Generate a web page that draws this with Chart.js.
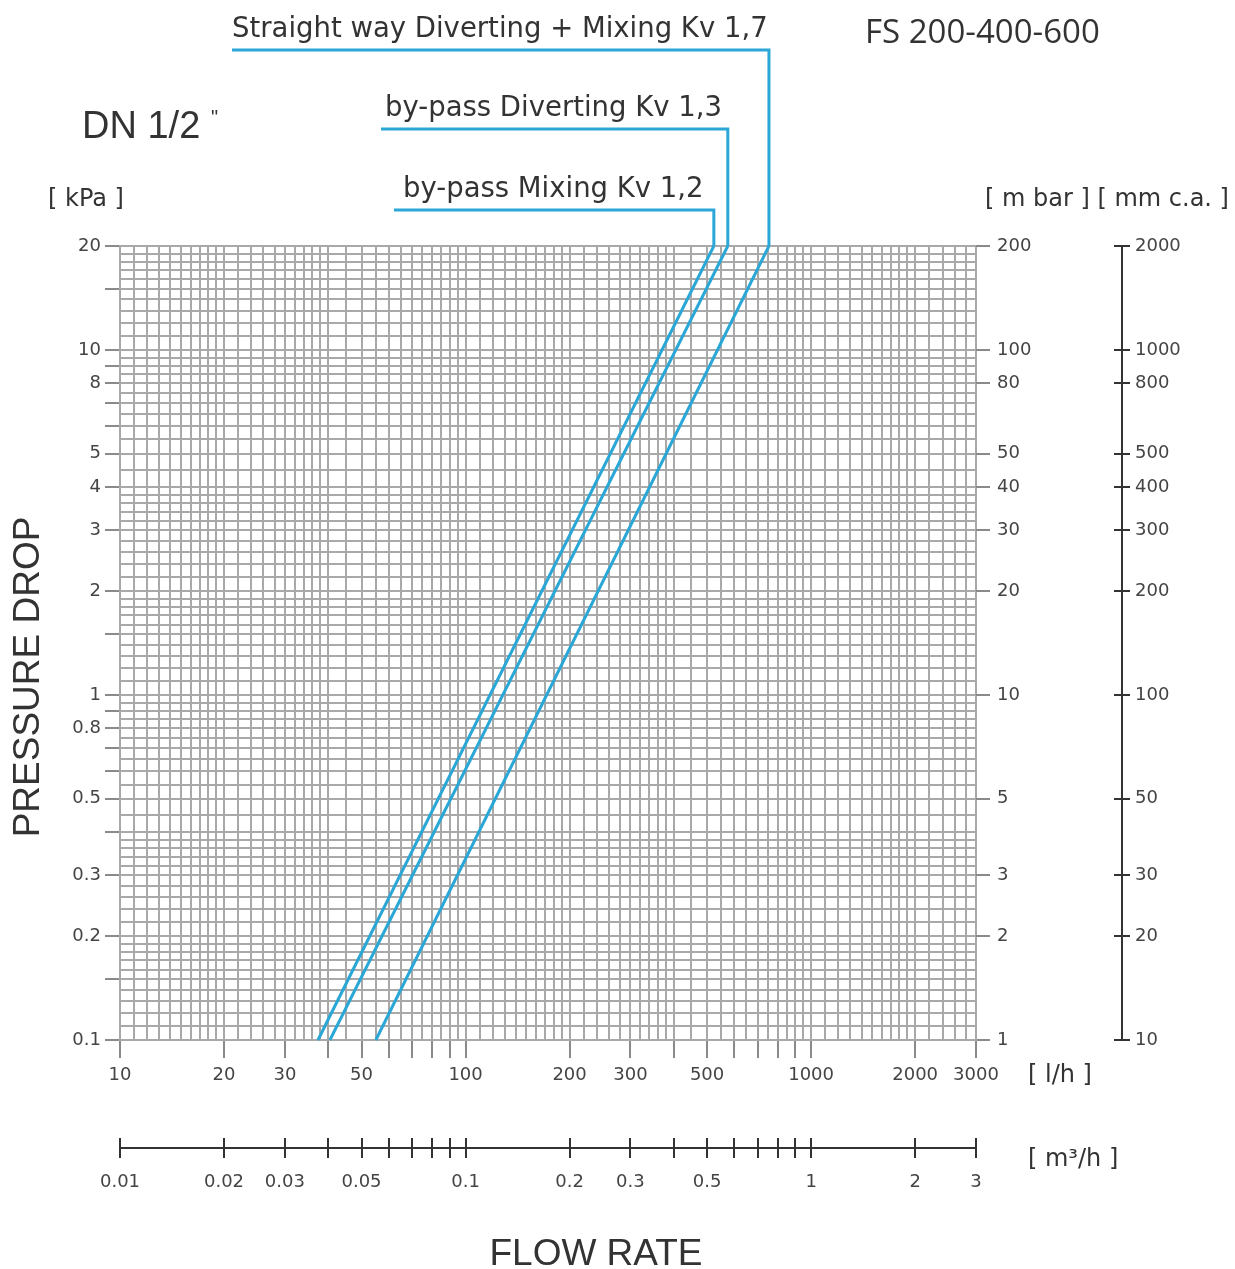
<!DOCTYPE html>
<html>
<head>
<meta charset="utf-8">
<script src="https://cdn.jsdelivr.net/npm/chart.js@4.4.1/dist/chart.umd.min.js"></script>
<style>
  html, body { margin: 0; padding: 0; background: #fff; }
  canvas { display: block; }
</style>
</head>
<body>
<canvas id="chart" width="1235" height="1269"></canvas>
<script>
// 曲線データ（図から読み取り、流量 l/h と圧力損失 kPa）
const seriesNames = ['by-pass Mixing Kv 1,2', 'by-pass Diverting Kv 1,3', 'Straight way Diverting + Mixing Kv 1,7'];
const mixingFlow = [37.4, 523];
const mixingDrop = [0.1, 20];
const divertingFlow = [40.5, 574];
const divertingDrop = [0.1, 20];
const straightFlow = [55, 755];
const straightDrop = [0.1, 20];

// 目盛ラベル
const flowLabels = [10, 20, 30, 50, 100, 200, 300, 500, 1000, 2000, 3000];
const m3Labels = [0.01, 0.02, 0.03, 0.05, 0.1, 0.2, 0.3, 0.5, 1, 2, 3];
const m3Ticks = [0.01, 0.02, 0.03, 0.04, 0.05, 0.06, 0.07, 0.08, 0.09, 0.1, 0.2, 0.3, 0.4, 0.5, 0.6, 0.7, 0.8, 0.9, 1, 2, 3];
const kpaLabels = [0.1, 0.2, 0.3, 0.5, 0.8, 1, 2, 3, 4, 5, 8, 10, 20];
const mbarLabels = [1, 2, 3, 5, 10, 20, 30, 40, 50, 80, 100, 200];
const mmLabels = [10, 20, 30, 50, 100, 200, 300, 400, 500, 800, 1000, 2000];

const LINE_COLOR = '#2aa7d6';
const GRID_COLOR = '#a9a9a9';
const TEXT_COLOR = '#333';
const TICK_FONT = { family: 'DejaVu Sans', size: 18 };

const near = (a, b) => Math.abs(a - b) <= Math.abs(b) * 1e-6;
const labelFor = (list) => (v) => {
    const hit = list.find(l => near(v, l));
    return hit === undefined ? '' : String(hit);
};

// 対数方眼紙の罫線（1-2: 0.1刻み, 2-4: 0.2刻み, 4-10: 0.5刻み）
function logPaper(min, max) {
    const out = [];
    const e0 = Math.floor(Math.log10(min));
    const e1 = Math.ceil(Math.log10(max));
    for (let e = e0; e <= e1; e++) {
        const d = Math.pow(10, e);
        for (let k = 10; k < 100; k += (k < 20 ? 1 : k < 40 ? 2 : 5)) {
            const v = Number((k / 10 * d).toPrecision(6));
            if (v >= min * 0.999999 && v <= max * 1.000001) out.push(v);
        }
    }
    if (!out.some(v => near(v, max))) out.push(max);
    return out;
}

// 仮数が整数の位置に目盛線
const isIntMantissa = (v) => {
    const m = v / Math.pow(10, Math.floor(Math.log10(v) + 1e-9));
    return Math.abs(m - Math.round(m)) < 1e-6;
};

const xGrid = logPaper(10, 3000);
const yGrid = logPaper(0.1, 20);

const makeSeries = (flow, drop) => flow.map((f, i) => ({ x: f, y: drop[i] }));

// 引出線とラベルの配置
const leaderLayout = [
    { lineY: 210, lineX: 394, textX: 403 },
    { lineY: 129, lineX: 381, textX: 385 },
    { lineY: 50, lineX: 232, textX: 232 }
];

const annotationPlugin = {
    id: 'annotations',
    afterDatasetsDraw(chart) {
        const ctx = chart.ctx;
        ctx.save();
        leaderLayout.forEach((lay, i) => {
            const meta = chart.getDatasetMeta(i);
            const top = meta.data[meta.data.length - 1];
            ctx.strokeStyle = LINE_COLOR;
            ctx.lineWidth = 3;
            ctx.lineJoin = 'miter';
            ctx.beginPath();
            ctx.moveTo(top.x, top.y);
            ctx.lineTo(top.x, lay.lineY);
            ctx.lineTo(lay.lineX, lay.lineY);
            ctx.stroke();
            ctx.fillStyle = TEXT_COLOR;
            ctx.font = '27.5px "DejaVu Sans"';
            ctx.textBaseline = 'alphabetic';
            ctx.textAlign = 'left';
            ctx.fillText(seriesNames[i], lay.textX, lay.lineY - 13);
        });
        ctx.restore();
    },
    afterDraw(chart) {
        const ctx = chart.ctx;
        ctx.save();
        // 十字目盛（副軸）
        ctx.strokeStyle = '#333';
        ctx.lineWidth = 2;
        const mm = chart.scales.mm;
        mm.ticks.forEach(t => {
            const py = Math.round(mm.getPixelForValue(t.value));
            ctx.beginPath();
            ctx.moveTo(mm.left - 8, py);
            ctx.lineTo(mm.left, py);
            ctx.stroke();
        });
        const m3 = chart.scales.m3;
        m3.ticks.forEach(t => {
            const px = Math.round(m3.getPixelForValue(t.value));
            ctx.beginPath();
            ctx.moveTo(px, m3.top - 10);
            ctx.lineTo(px, m3.top);
            ctx.stroke();
        });

        ctx.fillStyle = TEXT_COLOR;
        ctx.textBaseline = 'alphabetic';
        ctx.textAlign = 'left';
        ctx.font = '33px "Open Sans"';
        ctx.fillText('FS 200-400-600', 865, 43);
        ctx.font = '38px "Liberation Sans"';
        ctx.fillText('DN 1/2', 82, 138);
        ctx.font = '20px "Liberation Sans"';
        ctx.fillText('"', 211, 124);
        ctx.font = '24px "DejaVu Sans"';
        ctx.fillText('[ kPa ]', 48, 206);
        ctx.fillText('[ m bar ] [ mm c.a. ]', 985, 206);
        ctx.fillText('[ l/h ]', 1028, 1082);
        ctx.fillText('[ m\u00b3/h ]', 1028, 1166);

        ctx.font = '37px "Liberation Sans"';
        ctx.textAlign = 'center';
        ctx.fillText('FLOW RATE', 596, 1265);
        ctx.translate(29, 677);
        ctx.rotate(-Math.PI / 2);
        ctx.textBaseline = 'middle';
        ctx.fillText('PRESSURE DROP', 0, 0);
        ctx.restore();
    }
};

new Chart(document.getElementById('chart'), {
    type: 'line',
    data: {
        datasets: [
            { label: seriesNames[0], data: makeSeries(mixingFlow, mixingDrop) },
            { label: seriesNames[1], data: makeSeries(divertingFlow, divertingDrop) },
            { label: seriesNames[2], data: makeSeries(straightFlow, straightDrop) }
        ].map(ds => Object.assign(ds, {
            borderColor: LINE_COLOR,
            borderWidth: 3,
            pointRadius: 0,
            tension: 0,
            clip: false
        }))
    },
    options: {
        responsive: false,
        animation: false,
        devicePixelRatio: 1,
        layout: { padding: { top: 246, left: 0, right: 0, bottom: 0 } },
        plugins: {
            legend: { display: false },
            tooltip: { enabled: false }
        },
        scales: {
            x: {
                type: 'logarithmic',
                position: 'bottom',
                weight: 0,
                min: 10,
                max: 3000,
                afterBuildTicks: axis => { axis.ticks = xGrid.map(v => ({ value: v })); },
                afterFit: axis => { axis.height = 108; },
                grid: {
                    color: GRID_COLOR,
                    lineWidth: 2,
                    tickLength: 18,
                    tickColor: c => (c.tick && isIntMantissa(c.tick.value)) ? '#8a8a8a' : 'rgba(0,0,0,0)'
                },
                border: { color: GRID_COLOR, width: 2 },
                ticks: {
                    autoSkip: false,
                    maxRotation: 0,
                    padding: 7,
                    color: '#444',
                    font: TICK_FONT,
                    callback: labelFor(flowLabels)
                }
            },
            m3: {
                type: 'logarithmic',
                position: 'bottom',
                weight: 1,
                min: 0.01,
                max: 3,
                afterBuildTicks: axis => { axis.ticks = m3Ticks.map(v => ({ value: v })); },
                afterFit: axis => { axis.height = 121; },
                grid: {
                    drawOnChartArea: false,
                    color: '#333',
                    lineWidth: 2,
                    tickLength: 10
                },
                border: { color: '#333', width: 2 },
                ticks: {
                    autoSkip: false,
                    maxRotation: 0,
                    padding: 14,
                    color: '#444',
                    font: TICK_FONT,
                    callback: labelFor(m3Labels)
                }
            },
            y: {
                type: 'logarithmic',
                position: 'left',
                min: 0.1,
                max: 20,
                afterBuildTicks: axis => { axis.ticks = yGrid.map(v => ({ value: v })); },
                afterFit: axis => { axis.width = 120; },
                grid: {
                    color: GRID_COLOR,
                    lineWidth: 2,
                    tickLength: 15,
                    tickColor: c => (c.tick && (isIntMantissa(c.tick.value) || kpaLabels.some(l => near(c.tick.value, l)) || near(c.tick.value, 1.5) || near(c.tick.value, 15) || near(c.tick.value, 0.15))) ? '#8a8a8a' : 'rgba(0,0,0,0)'
                },
                border: { color: GRID_COLOR, width: 2 },
                ticks: {
                    autoSkip: false,
                    padding: 4,
                    color: '#444',
                    font: TICK_FONT,
                    callback: labelFor(kpaLabels)
                }
            },
            mbar: {
                type: 'logarithmic',
                position: 'right',
                weight: 0,
                min: 1,
                max: 200,
                afterBuildTicks: axis => { axis.ticks = mbarLabels.map(v => ({ value: v })); },
                afterFit: axis => { axis.width = 146; },
                grid: {
                    drawOnChartArea: false,
                    color: '#8a8a8a',
                    lineWidth: 2,
                    tickLength: 14
                },
                border: { display: false },
                ticks: {
                    autoSkip: false,
                    padding: 7,
                    color: '#444',
                    font: TICK_FONT,
                    callback: labelFor(mbarLabels)
                }
            },
            mm: {
                type: 'logarithmic',
                position: 'right',
                weight: 1,
                min: 10,
                max: 2000,
                afterBuildTicks: axis => { axis.ticks = mmLabels.map(v => ({ value: v })); },
                afterFit: axis => { axis.width = 113; },
                grid: {
                    drawOnChartArea: false,
                    color: '#333',
                    lineWidth: 2,
                    tickLength: 8
                },
                border: { color: '#333', width: 2 },
                ticks: {
                    autoSkip: false,
                    padding: 5,
                    color: '#444',
                    font: TICK_FONT,
                    callback: labelFor(mmLabels)
                }
            }
        }
    },
    plugins: [annotationPlugin]
});
</script>
</body>
</html>
